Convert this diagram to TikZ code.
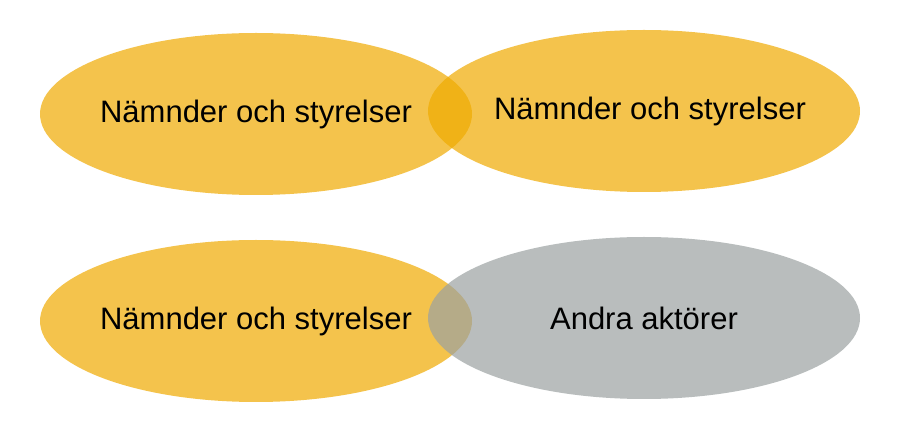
\documentclass[tikz,border=0pt]{standalone}
\usepackage{fontspec}
\setmainfont{Liberation Sans}
\usetikzlibrary{shapes.geometric}
\definecolor{gul}{RGB}{239,170,0}
\definecolor{gra}{RGB}{155,161,161}
\begin{document}
\begin{tikzpicture}[x=1pt,y=-1pt,
  krets/.style={ellipse,minimum width=432pt,minimum height=162pt,inner sep=0pt,
    fill opacity=0.7},
  namn/.style={text opacity=1,fill opacity=1,font=\fontsize{31}{37}\selectfont}]
\useasboundingbox (0,0) rectangle (922,443);
\node[krets,fill=gul,label={[namn]center:Nämnder och styrelser}] (nsA) at (256,114) {};
\node[krets,fill=gul,label={[namn,xshift=6pt]center:Nämnder och styrelser}] (nsB) at (644,111) {};
\node[krets,fill=gul,label={[namn]center:Nämnder och styrelser}] (nsC) at (256,321) {};
\node[krets,fill=gra,label={[namn]center:Andra aktörer}] (andra) at (644,318) {};
\end{tikzpicture}
\end{document}
